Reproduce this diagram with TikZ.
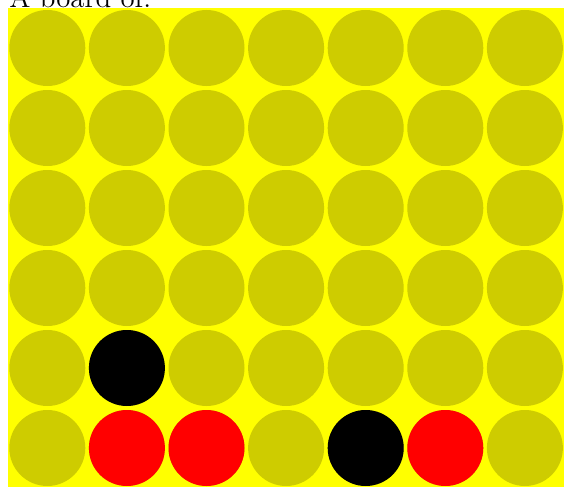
\documentclass[tikz,border=0pt]{standalone}
\definecolor{boardyellow}{RGB}{255,255,0}
\definecolor{holecol}{RGB}{206,204,0}
\tikzset{
  hole/.style={circle, fill=holecol, draw=none, minimum size=38pt, inner sep=0pt},
  redpiece/.style={circle, fill=red, draw=none, minimum size=38pt, inner sep=0pt},
  blackpiece/.style={circle, fill=black, draw=none, minimum size=38pt, inner sep=0pt},
}
\begin{document}
\begin{tikzpicture}[x=0.5pt, y=-0.5pt]
\useasboundingbox (0,0) rectangle (564,487);
\fill[boardyellow] (7.5,8) rectangle (564,487);
\node[anchor=base west, inner sep=0pt, font=\fontsize{14.4}{17}\selectfont] (title) at (9,7) {A board of:};
% rows 0..5 top to bottom, cols 0..6
\foreach \r in {0,...,5}{
  \foreach \c in {0,...,6}{
    \node[hole] (h\r\c) at ({47.3+79.6*\c},{48+80*\r}) {};
  }
}
\node[blackpiece] (p41) at (h41) {};
\node[redpiece] (p51) at (h51) {};
\node[redpiece] (p52) at (h52) {};
\node[blackpiece] (p54) at (h54) {};
\node[redpiece] (p55) at (h55) {};
\end{tikzpicture}
\end{document}
